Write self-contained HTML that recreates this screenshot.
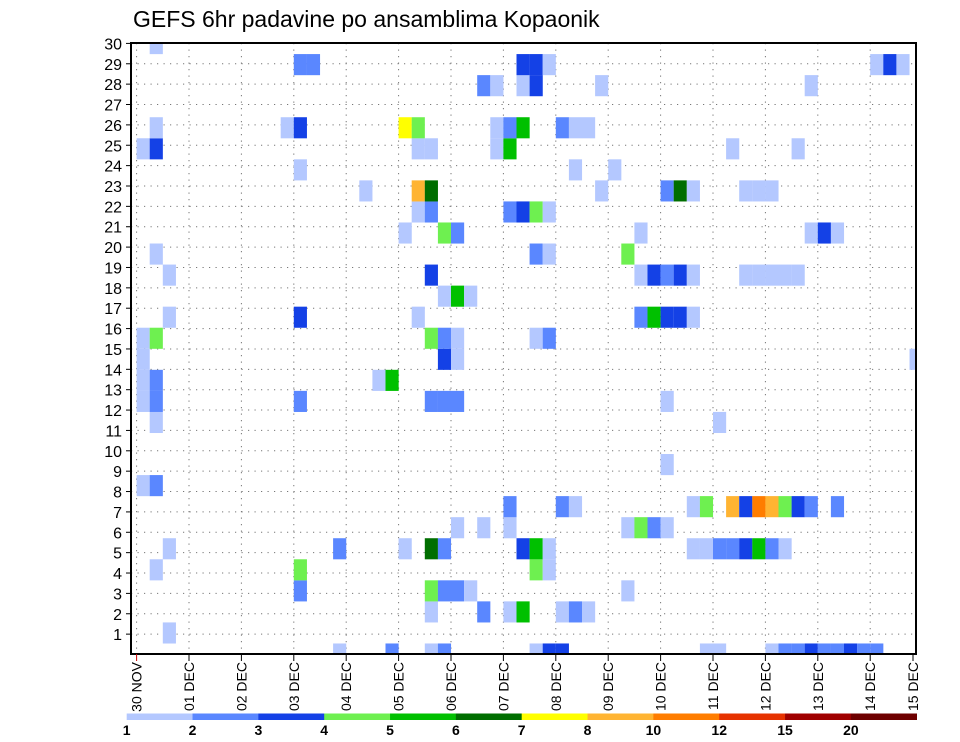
<!DOCTYPE html>
<html><head><meta charset="utf-8"><style>
html,body{margin:0;padding:0;background:#fff;}
svg{display:block;font-family:"Liberation Sans",sans-serif;}
</style></head><body>
<svg id="chart" width="960" height="742" viewBox="0 0 960 742" xmlns="http://www.w3.org/2000/svg">
<text x="133" y="27" font-size="23" fill="#000">GEFS 6hr padavine po ansamblima Kopaonik</text>
<defs><clipPath id="plotclip"><rect x="131" y="43" width="785" height="611"/></clipPath></defs>
<g id="grid"></g>
<g id="cells" clip-path="url(#plotclip)"></g>
<rect x="131" y="43" width="785" height="611" fill="none" stroke="#000" stroke-width="2"/>
<g id="yaxis"></g>
<g id="xaxis"></g>
<g id="cbar"></g>
</svg>
<script>
// member rows: "step:level" pairs (step = 6h index from 30 NOV 00z)
const memberCells = [
"15:1 19:2 22:1 23:2 30:1 31:3 32:3 43:1 44:1 48:1 49:2 50:2 51:3 52:2 53:2 54:3 55:2 56:2",
"2:1",
"22:1 26:2 28:1 29:5 32:1 33:2 34:1",
"12:2 22:4 23:2 24:2 25:1 37:1",
"1:1 12:4 30:4 31:1",
"2:1 15:2 20:1 22:6 23:2 29:3 30:5 31:1 42:1 43:1 44:2 45:2 46:3 47:5 48:2 49:1",
"24:1 26:1 28:1 37:1 38:4 39:2 40:1",
"28:2 32:2 33:1 42:1 43:4 45:8 46:3 47:9 48:8 49:4 50:3 51:2 53:2",
"0:1 1:2",
"40:1",
"",
"1:1 44:1",
"0:1 1:2 12:2 22:2 23:2 24:2 40:1",
"0:1 1:2 18:1 19:5",
"0:1 23:3 24:1 59:1",
"0:1 1:4 22:4 23:2 24:1 30:1 31:2",
"2:1 12:3 21:1 38:2 39:5 40:3 41:3 42:1",
"23:1 24:5 25:1",
"2:1 22:3 38:1 39:3 40:2 41:3 42:1 46:1 47:1 48:1 49:1 50:1",
"1:1 30:2 31:1 37:4",
"20:1 23:4 24:2 38:1 51:1 52:3 53:1",
"21:1 22:2 28:2 29:3 30:4 31:1",
"17:1 21:8 22:6 35:1 40:2 41:6 42:1 46:1 47:1 48:1",
"12:1 33:1 36:1",
"0:1 1:3 21:1 22:1 27:1 28:5 45:1 50:1",
"1:1 11:1 12:3 20:7 21:4 27:1 28:2 29:5 32:2 33:1 34:1",
"",
"26:2 27:1 29:1 30:3 35:1 51:1",
"12:2 13:2 29:3 30:3 31:1 56:1 57:3 58:1",
"1:1"
];
const levelColors = ["#ffffff","#b4c8ff","#5a87ff","#1441e6","#6ef050","#00c000","#006e00","#ffff00","#ffb432","#ff7d00","#e63200","#a00000","#6e0000"];
const legendLabels = ["1","2","3","4","5","6","7","8","10","12","15","20"];
const dayLabels = ["30 NOV","01 DEC","02 DEC","03 DEC","04 DEC","05 DEC","06 DEC","07 DEC","08 DEC","09 DEC","10 DEC","11 DEC","12 DEC","13 DEC","14 DEC","15 DEC"];
const yTicks = [1,2,3,4,5,6,7,8,9,10,11,12,13,14,15,16,17,18,19,20,21,22,23,24,25,26,27,28,29,30];

const NS="http://www.w3.org/2000/svg";
function mk(tag, attrs, parent){const e=document.createElementNS(NS,tag);for(const k in attrs)e.setAttribute(k,attrs[k]);parent.appendChild(e);return e;}
const xStep = k => 136.6 + 13.1*k;
const xDay = d => d===15 ? 913 : 136.6 + 52.4*d;
const yMember = m => 654 - 21.05*m;
const yLabel = r => 654.5 - 20.37*r;

const grid=document.getElementById('grid');
yTicks.forEach(r=>{ if(r<30){ const l=mk('line',{x1:131,x2:916,y1:yLabel(r),y2:yLabel(r),stroke:'#777','stroke-width':1,'stroke-dasharray':'1.2,5.3'},grid);

}});
for(let d=0;d<15;d++){const l=mk('line',{x1:xDay(d),x2:xDay(d),y1:43,y2:654,stroke:'#777','stroke-width':1,'stroke-dasharray':'1.2,5.3'},grid);

}

const cells=document.getElementById('cells');
memberCells.forEach((row,m)=>{ if(!row) return; row.split(' ').forEach(p=>{const [k,lv]=p.split(':').map(Number);
const r=mk('rect',{x:xStep(k),y:yMember(m)-10.53,width:13.15,height:21.1,fill:levelColors[lv]},cells);

});});

const ya=document.getElementById('yaxis');
yTicks.forEach(r=>{const y=yLabel(r);
const t=mk('line',{x1:126,x2:131,y1:y,y2:y,stroke:'#000','stroke-width':1},ya);


const tx=mk('text',{x:122,y:y+6,'font-size':16,'text-anchor':'end',fill:'#000'},ya);
tx.textContent=r;

});

const xa=document.getElementById('xaxis');
dayLabels.forEach((lab,d)=>{const x=xDay(d);
const t=mk('line',{x1:x,x2:x,y1:654,y2:661,stroke:d===0?'#c00':'#000','stroke-width':1},xa);


const tx=mk('text',{x:0,y:0,'font-size':14,'text-anchor':'end',fill:'#000',transform:`translate(${x+5},662) rotate(-90)`},xa);
tx.textContent=lab;

});

const cb=document.getElementById('cbar');
const segW=(916.7-126.7)/12;
for(let i=0;i<12;i++){const r=mk('rect',{x:126.7+segW*i,y:713.5,width:segW+0.3,height:6.5,fill:levelColors[i+1]},cb);


const tx=mk('text',{x:126.7+segW*i,y:735,'font-size':14,'text-anchor':'middle',fill:'#000','font-weight':'bold'},cb);
tx.textContent=legendLabels[i];

}
</script>
</body></html>
